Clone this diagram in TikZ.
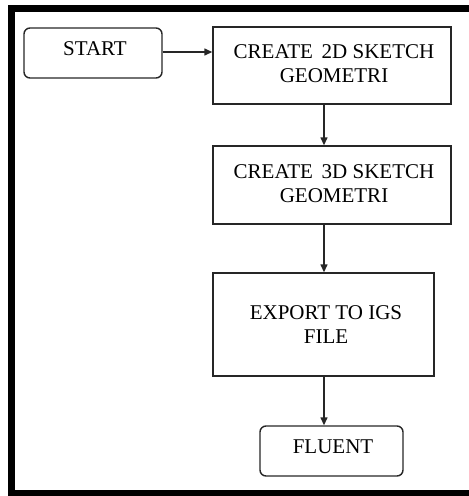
\documentclass[tikz,border=0pt]{standalone}
\usepackage{fontspec}
\setmainfont{Liberation Serif}
\usetikzlibrary{arrows.meta}
\begin{document}
\begin{tikzpicture}[x=1pt,y=-1pt,
  every node/.style={font=\fontsize{21}{24}\selectfont, align=center, text=black},
  rbox/.style={draw=black!85, line width=1.4pt, rounded corners=6pt, inner sep=0pt},
  sbox/.style={draw=black!85, line width=1.4pt, inner sep=0pt},
  lbl/.style={inner sep=0pt},
  conn/.style={draw=black!85, line width=1.4pt, -{Triangle[length=8pt,width=7pt]}},
  frame/.style={line width=7pt, draw=black}]
\useasboundingbox (0,0) rectangle (469,496);
\draw[frame] (475,8.5) -- (11.5,8.5) -- (11.5,493) -- (475,493);
\node[rbox, minimum width=138pt, minimum height=50pt] (start) at (93,53) {};
\node[lbl] (startt) at (95,49) {START};
\node[sbox, minimum width=238pt, minimum height=77pt] (b1) at (332,65.5) {};
\node[lbl] (b1t) at (334,64) {CREATE\, 2D SKETCH\\GEOMETRI};
\node[sbox, minimum width=238pt, minimum height=78pt] (b2) at (332,185) {};
\node[lbl] (b2t) at (334,184) {CREATE\, 3D SKETCH\\GEOMETRI};
\node[sbox, minimum width=221pt, minimum height=103pt] (b3) at (323.5,324.5) {};
\node[lbl] (b3t) at (326,325) {EXPORT TO IGS\\FILE};
\node[rbox, minimum width=143pt, minimum height=50pt] (fl) at (331.5,451) {};
\node[lbl] (flt) at (333,447) {FLUENT};
\draw[conn] (start.east |- 0,52) -- (b1.west |- 0,52);
\draw[conn] (b1.south -| 324,0) -- (b2.north -| 324,0);
\draw[conn] (b2.south -| 324,0) -- (b3.north -| 324,0);
\draw[conn] (b3.south -| 324,0) -- (fl.north -| 324,0);
\end{tikzpicture}
\end{document}
